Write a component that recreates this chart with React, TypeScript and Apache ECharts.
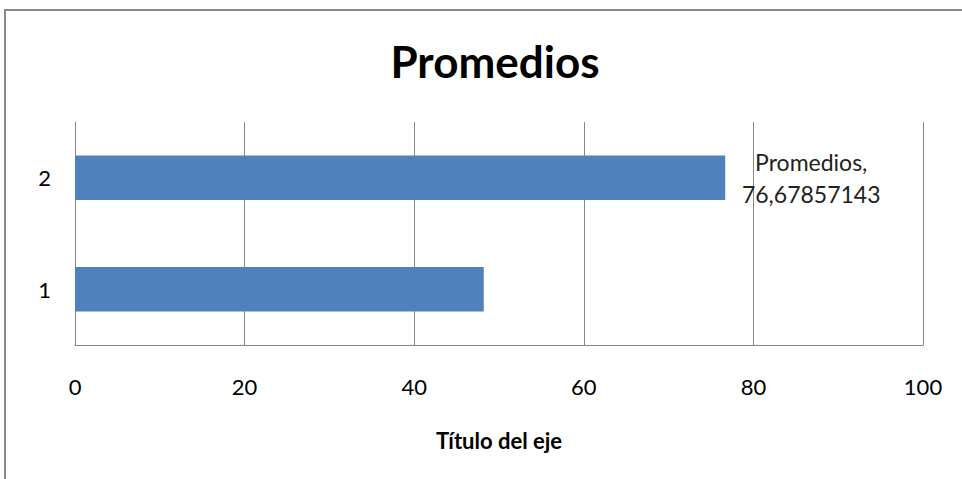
import React, { useEffect, useRef } from "react";
import * as echarts from "echarts";

const categories = ["1", "2"];
const promedios = [48.2, 76.67857143];
const xTicks = [0, 20, 40, 60, 80, 100];
const titleText = "Promedios";
const axisTitle = "Título del eje";
const seriesName = "Promedios";

const FONT = "Lato, 'Open Sans', sans-serif";

export default function App() {
  const ref = useRef<HTMLDivElement>(null);
  useEffect(() => {
    if (!ref.current) return;
    const chart = echarts.init(ref.current, null, { renderer: "svg" });
    chart.setOption({
      animation: false,
      backgroundColor: "#ffffff",
      title: {
        text: titleText,
        left: 490,
        textAlign: "center",
        top: 34,
        textStyle: { fontFamily: FONT, fontWeight: "bold", fontSize: 44, color: "#000" },
      },
      graphic: [
        {
          type: "rect",
          shape: { x: 5, y: 10, width: 1000, height: 520 },
          style: { fill: "none", stroke: "#8a8a8a", lineWidth: 2 },
          silent: true,
        },
      ],
      grid: { left: 75, right: 39, top: 122, bottom: 134 },
      xAxis: {
        type: "value",
        min: xTicks[0],
        max: xTicks[xTicks.length - 1],
        interval: 20,
        name: axisTitle,
        nameLocation: "middle",
        nameGap: 84,
        nameTextStyle: { fontFamily: FONT, fontWeight: "bold", fontSize: 22, color: "#000" },
        axisLine: { show: true, lineStyle: { color: "#868686", width: 1 } },
        axisTick: { show: false },
        axisLabel: { fontFamily: FONT, fontSize: 22, color: "#000", margin: 30 },
        splitLine: { show: true, lineStyle: { color: "#868686", width: 1 } },
      },
      yAxis: {
        type: "category",
        data: categories,
        axisLine: { show: true, lineStyle: { color: "#868686", width: 1 } },
        axisTick: { show: false },
        axisLabel: { fontFamily: FONT, fontSize: 22, color: "#000", margin: 24 },
      },
      series: [
        {
          type: "bar",
          name: seriesName,
          data: promedios.map((v, i) =>
            i === 1
              ? {
                  value: v,
                  label: {
                    show: true,
                    position: "right",
                    distance: 86,
                    align: "center",
                    lineHeight: 32,
                    fontFamily: FONT,
                    fontSize: 23,
                    color: "#222",
                    formatter: (p: any) => `${seriesName},\n${String(p.value).replace(".", ",")}`,
                  },
                }
              : v
          ),
          barCategoryGap: "60%",
          itemStyle: { color: "#4f81bd" },
        },
      ],
    });
    return () => chart.dispose();
  }, []);
  return (
    <div
      ref={ref}
      style={{ position: "fixed", left: 0, top: 0, width: 962, height: 479 }}
    />
  );
}
